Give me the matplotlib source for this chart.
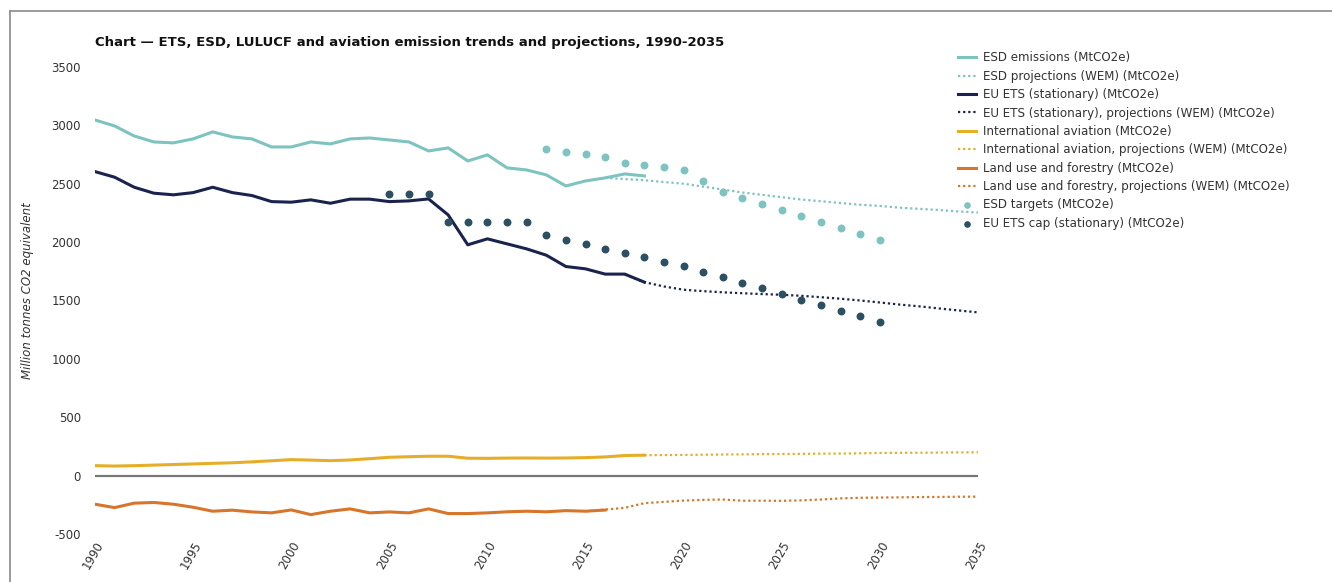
import numpy as np
import matplotlib
matplotlib.use("Agg")
import matplotlib.pyplot as plt
from matplotlib.lines import Line2D

# historical years
hist_years = list(range(1990, 2019))
esd_emissions = [3046, 2995, 2909, 2858, 2850, 2884, 2944, 2901, 2884, 2815,
                 2815, 2858, 2841, 2884, 2892, 2875, 2858, 2781, 2807, 2695,
                 2747, 2636, 2618, 2576, 2481, 2524, 2550, 2584, 2567]
ets_stationary = [2604, 2556, 2470, 2419, 2405, 2424, 2470, 2424, 2399, 2347,
                  2342, 2362, 2333, 2368, 2368, 2347, 2353, 2370, 2233, 1977,
                  2028, 1985, 1942, 1888, 1791, 1771, 1726, 1726, 1657]
aviation = [85, 82, 85, 90, 95, 100, 105, 110, 118, 127,
            137, 133, 128, 134, 145, 157, 162, 166, 166, 149,
            148, 150, 151, 150, 151, 154, 160, 172, 175]
lulucf_years = list(range(1990, 2017))
lulucf = [-245, -274, -236, -230, -245, -271, -305, -296, -311, -319,
          -294, -334, -305, -285, -319, -311, -319, -285, -325, -325,
          -319, -310, -305, -310, -300, -305, -295]

# projections (WEM)
esd_proj_years = list(range(2016, 2036))
esd_proj = [2550, 2540, 2530, 2515, 2500, 2475, 2450, 2425, 2405, 2385,
            2365, 2350, 2335, 2320, 2310, 2295, 2285, 2275, 2263, 2253]
ets_proj_years = list(range(2017, 2036))
ets_proj = [1722, 1657, 1620, 1592, 1580, 1570, 1562, 1555, 1549, 1540,
            1528, 1515, 1500, 1483, 1465, 1450, 1432, 1415, 1398]
avi_proj_years = list(range(2018, 2036))
avi_proj = [175, 176, 177, 179, 181, 182, 184, 185, 186, 188,
            189, 191, 194, 195, 196, 197, 199, 200]
lulucf_proj_years = list(range(2015, 2036))
lulucf_proj = [-305, -291, -276, -236, -225, -214, -208, -205, -215, -215,
               -216, -212, -205, -195, -190, -188, -186, -184, -183, -181, -180]

# targets and caps
esd_target_years = list(range(2013, 2031))
esd_targets = [2795, 2772, 2753, 2733, 2681, 2661, 2641, 2618, 2527, 2433,
               2382, 2330, 2279, 2227, 2176, 2125, 2071, 2019]
ets_cap_years = list(range(2005, 2031))
ets_cap = [2410, 2410, 2410, 2171, 2171, 2171, 2171, 2171, 2060, 2022,
           1982, 1945, 1905, 1871, 1831, 1794, 1743, 1697, 1649, 1603,
           1555, 1506, 1460, 1412, 1363, 1315]

c_esd = "#7dc3bf"
c_ets = "#1a234d"
c_avi = "#e6ae28"
c_lul = "#d7752a"
c_cap = "#2c5062"

plt.rcParams["font.family"] = "DejaVu Sans"
plt.rcParams["axes.unicode_minus"] = False
fig = plt.figure(figsize=(13.32, 5.82), dpi=100)
ax = fig.add_axes([0.0713, 0.0825, 0.6629, 0.8024])

ax.axhline(0, color="#777777", lw=1.6, zorder=1)

dot = (0, (1, 1.3))
ax.plot(hist_years, esd_emissions, color=c_esd, lw=2.2, label="ESD emissions (MtCO2e)")
ax.plot(esd_proj_years, esd_proj, color=c_esd, lw=1.6, ls=dot,
        label="ESD projections (WEM) (MtCO2e)")
ax.plot(hist_years, ets_stationary, color=c_ets, lw=2.2, label="EU ETS (stationary) (MtCO2e)")
ax.plot(ets_proj_years, ets_proj, color=c_ets, lw=1.6, ls=dot,
        label="EU ETS (stationary), projections (WEM) (MtCO2e)")
ax.plot(hist_years, aviation, color=c_avi, lw=2.2, label="International aviation (MtCO2e)")
ax.plot(avi_proj_years, avi_proj, color=c_avi, lw=1.6, ls=dot,
        label="International aviation, projections (WEM) (MtCO2e)")
ax.plot(lulucf_years, lulucf, color=c_lul, lw=2.2, label="Land use and forestry (MtCO2e)")
ax.plot(lulucf_proj_years, lulucf_proj, color=c_lul, lw=1.6, ls=dot,
        label="Land use and forestry, projections (WEM) (MtCO2e)")
ax.scatter(esd_target_years, esd_targets, s=22, color=c_esd, zorder=3,
           label="ESD targets (MtCO2e)")
ax.scatter(ets_cap_years, ets_cap, s=22, color=c_cap, zorder=3,
           label="EU ETS cap (stationary) (MtCO2e)")

ax.set_xlim(1990, 2035)
ax.set_ylim(-500, 3500)
ax.set_xticks(range(1990, 2036, 5))
ax.set_yticks(range(-500, 3501, 500))
for s in ax.spines.values():
    s.set_visible(False)
ax.tick_params(length=0, labelsize=8.5, colors="#333333")
ax.tick_params(axis="y", pad=10)
ax.tick_params(axis="x", pad=4)
for lab in ax.get_xticklabels():
    lab.set_rotation(60)
    lab.set_ha("right")
    lab.set_rotation_mode("anchor")

fig.text(0.021, 0.50, "Million tonnes CO2 equivalent", rotation=90, style="italic",
         fontsize=8.5, color="#333333", va="center", ha="center")
fig.text(0.0713, 0.927, "Chart \u2014 ETS, ESD, LULUCF and aviation emission trends and projections, 1990-2035",
         fontsize=9.5, fontweight="bold", color="#111111", va="center")

handles, labels = ax.get_legend_handles_labels()
leg = fig.legend(handles, labels, loc="upper left", bbox_to_anchor=(0.711, 0.93),
                 frameon=False, fontsize=8.6, handlelength=1.5, handletextpad=0.6,
                 labelspacing=0.45, markerscale=0.8, labelcolor="#333333")

# outer frame (top and left edges)
fig.add_artist(Line2D([0.0075, 0.0075], [0.0, 0.981], color="#8a8a8a", lw=1.2))
fig.add_artist(Line2D([0.0075, 1.0], [0.981, 0.981], color="#8a8a8a", lw=1.2))

fig.savefig("out.png", dpi=100, facecolor="white")
